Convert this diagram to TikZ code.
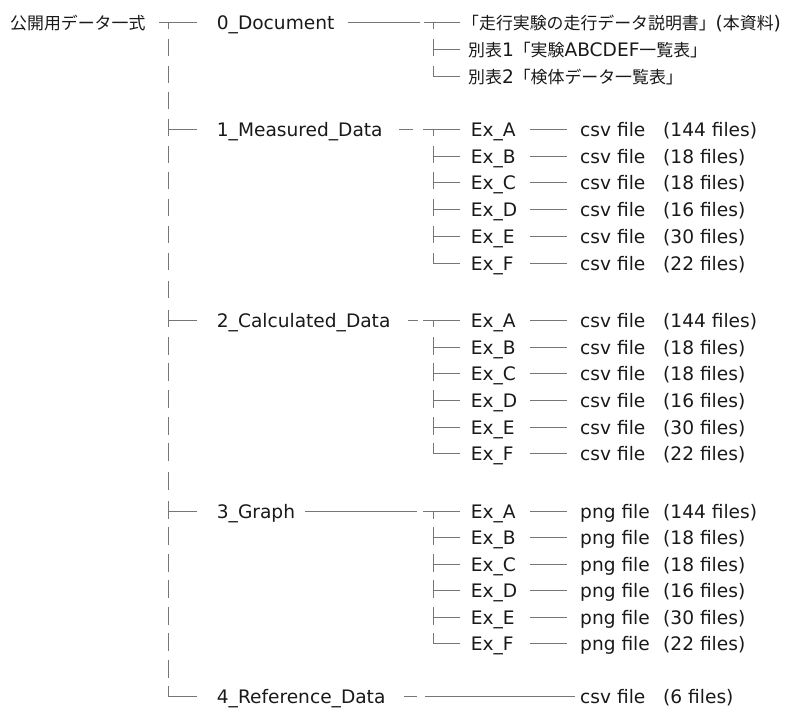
\documentclass[tikz,border=0pt]{standalone}
\usepackage{fontspec}
\setmainfont{DejaVu Sans}
\newfontfamily\jpfont{Noto Sans CJK JP}
\newcommand\jp[1]{{\jpfont\fontsize{16.9}{20}\selectfont #1}}

\definecolor{treegray}{RGB}{118,118,118}
\definecolor{inktext}{RGB}{25,25,25}

\tikzset{
  txt/.style={anchor=base west, inner sep=0pt, text=inktext,
              font=\fontsize{18.6}{22}\selectfont},
  treeline/.style={draw=treegray, line width=1.3pt},
}

% box-drawing strokes: x, y (row centre), right end of the arm
\newcommand\tbBar[2]{\draw[treeline] (#1,#2-10.5) -- (#1,#2+7);}
\newcommand\tbTee[4]{\draw[treeline] (#3,#2) -- (#4,#2) (#1,#2) -- (#1,#2+7);}
\newcommand\tbMid[3]{\draw[treeline] (#1,#2-10.5) -- (#1,#2+7) (#1,#2) -- (#3,#2);}
\newcommand\tbEnd[3]{\draw[treeline] (#1,#2-10.5) -- (#1,#2) -- (#3,#2);}

\begin{document}
\begin{tikzpicture}[x=1pt,y=-1pt]
\useasboundingbox (0,0) rectangle (800,708);

% ---- root and trunk ----
\node[txt] (root) at (10,29.3) {\jp{公開用データ一式}};
\tbTee{168.5}{22.5}{159}{197}
\foreach \yy in {49.5,76.5,102.5} {\tbBar{168.5}{\yy}}
\tbMid{168.5}{129.5}{197}
\foreach \yy in {156.5,182.5,209.5,236.5,263.5,291.5} {\tbBar{168.5}{\yy}}
\tbMid{168.5}{320.5}{197}
\foreach \yy in {347.5,373.5,400.5,427.5,453.5,482.5} {\tbBar{168.5}{\yy}}
\tbMid{168.5}{511.5}{197}
\foreach \yy in {537.5,564.5,590.5,617.5,643.5,670.5} {\tbBar{168.5}{\yy}}
\tbEnd{168.5}{696.5}{197}

% ---- first level folders ----
\node[txt] (doc)  at (216.7,29.3)  {0\_Document};
\node[txt] (meas) at (216.7,136.3) {1\_Measured\_Data};
\node[txt] (calc) at (216.7,327.3) {2\_Calculated\_Data};
\node[txt] (grph) at (216.7,518.3) {3\_Graph};
\node[txt] (refd) at (216.7,703.5) {4\_Reference\_Data};

% ---- documents ----
\draw[treeline] (348,22.5) -- (420,22.5);
\tbTee{433.5}{22.5}{424}{460}
\tbMid{433.5}{49.5}{460}
\tbEnd{433.5}{76.5}{460}
\node[txt] (doc1) at (462,29.3) {\jp{「走行実験の走行データ説明書」}(\jp{本資料})};
\node[txt] (doc2) at (468,56.3) {\jp{別表}1\jp{「実験}ABCDEF\jp{一覧表」}};
\node[txt] (doc3) at (468,83.3) {\jp{別表}2\jp{「検体データ一覧表」}};

% ---- links from folder names to the experiment lists ----
\draw[treeline] (399,129.5) -- (413,129.5);
\draw[treeline] (408,320.5) -- (418,320.5);
\draw[treeline] (305,511.5) -- (417,511.5);

% ---- experiment lists (row centres given per group) ----
\foreach \grp/\rows/\kind in {
    m/{129.5,156.5,182.5,209.5,236.5,263.5}/csv,
    c/{320.5,347.5,373.5,400.5,427.5,453.5}/csv,
    g/{511.5,537.5,564.5,590.5,617.5,643.5}/png} {
  \foreach \ex/\nf [count=\i from 0] in {A/144,B/18,C/18,D/16,E/30,F/22} {
    \pgfmathsetmacro\ry{{\rows}[\i]}
    \ifnum\i=0 \tbTee{433.5}{\ry}{423}{460}\else
      \ifnum\i=5 \tbEnd{433.5}{\ry}{460}\else \tbMid{433.5}{\ry}{460}\fi\fi
    \node[txt] (\grp ex\ex) at (470.7,\ry+6.8) {Ex\_\ex};
    \coordinate (\grp a\ex) at (530,\ry);
    \coordinate (\grp b\ex) at (567,\ry);
    \draw[treeline] (\grp a\ex) -- (\grp b\ex);
    \node[txt] (\grp f\ex) at (580,\ry+6.8) {\kind\ file};
    \node[txt] (\grp n\ex) at (663,\ry+6.8) {(\nf\ files)};
  }
}

% ---- reference data ----
\draw[treeline] (404,696.5) -- (417,696.5) (425,696.5) -- (575,696.5);
\node[txt] (reff) at (580,703.5) {csv file};
\node[txt] (refn) at (663,703.5) {(6 files)};
\end{tikzpicture}
\end{document}
